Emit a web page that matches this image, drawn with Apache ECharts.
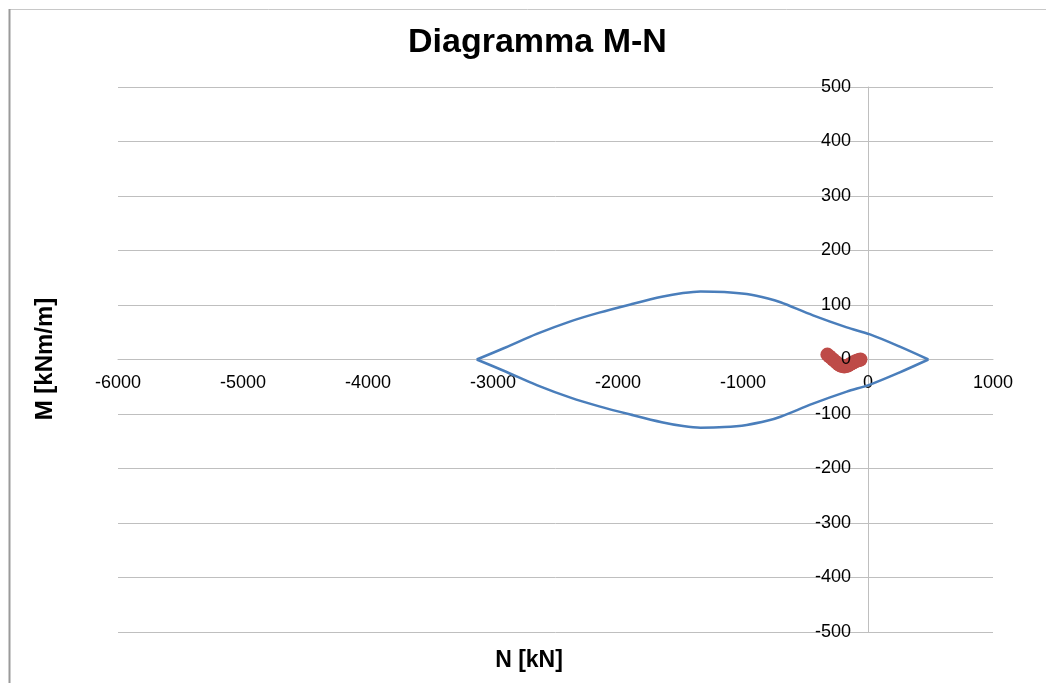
<!DOCTYPE html>
<html>
<head>
<meta charset="utf-8">
<script src="https://cdn.jsdelivr.net/npm/echarts@6/dist/echarts.min.js"></script>
<style>
html,body{margin:0;padding:0;background:#fff;}
#chart{width:1046px;height:683px;}
</style>
</head>
<body>
<div id="chart"></div>
<script>
// Upper branch of the M-N interaction domain (N [kN], M [kNm/m])
var upperN = [-3130, -2900, -2650, -2380, -2150, -1900, -1650, -1480, -1340, -1150, -970, -800, -700, -440, -170, 16, 250, 483];
var upperM = [0, 22, 47, 70, 86, 101, 115, 122, 125, 124, 120, 112, 105, 81, 59, 46, 24, 0];
// Lower branch
var lowerN = [-3130, -2900, -2650, -2380, -2150, -1900, -1650, -1480, -1340, -1150, -970, -800, -700, -440, -170, 16, 250, 483];
var lowerM = [0, -22, -47, -70, -86, -101, -115, -122, -125, -124, -120, -112, -105, -81, -59, -46, -24, 0];
// Load points (red)
var loadN = [-325, -310, -295, -280, -265, -250, -235, -220, -205, -190, -175, -160, -145, -130, -115, -100, -85, -70, -60];
var loadM = [9, 6, 3, 0, -3, -6, -9, -11, -12, -13, -12, -11, -9, -7, -5, -3, -2, -1, 0];

var xTicks = [-6000, -5000, -4000, -3000, -2000, -1000, 0, 1000];
var yTicks = [-500, -400, -300, -200, -100, 0, 100, 200, 300, 400, 500];

function pairs(a, b) { return a.map(function (v, i) { return [v, b[i]]; }); }

var FONT = '"Liberation Sans", Arial, sans-serif';
var GRID = { left: 118, top: 87, width: 875, height: 545 };
var xMin = xTicks[0], xMax = xTicks[xTicks.length - 1];
var yMin = yTicks[0], yMax = yTicks[yTicks.length - 1];
// place the axes through the origin (axis offsets derived from the scales)
var yAxisOffset = -GRID.width * (0 - xMin) / (xMax - xMin);
var xAxisOffset = -GRID.height * (0 - yMin) / (yMax - yMin);
var numFmt = function (v) { return String(v); };

var chart = echarts.init(document.getElementById('chart'));
chart.setOption({
  animation: false,
  backgroundColor: '#ffffff',
  title: {
    text: 'Diagramma M-N',
    left: 403,
    top: 21,
    textStyle: { fontFamily: FONT, fontWeight: 'bold', fontSize: 34, color: '#000' }
  },
  grid: { left: GRID.left, top: GRID.top, width: GRID.width, height: GRID.height, containLabel: false },
  xAxis: {
    type: 'value',
    min: xMin, max: xMax, interval: 1000,
    position: 'bottom',
    offset: xAxisOffset,
    axisLine: { show: true, onZero: false, lineStyle: { color: '#bfbfbf', width: 1 } },
    axisTick: { show: false },
    splitLine: { show: false },
    axisLabel: { fontFamily: FONT, fontSize: 18, color: '#000', margin: 15, formatter: numFmt }
  },
  yAxis: [
    {
      type: 'value',
      min: yMin, max: yMax, interval: 100,
      position: 'left',
      offset: yAxisOffset,
      axisLine: { show: true, onZero: false, lineStyle: { color: '#bfbfbf', width: 1 } },
      axisTick: { show: false },
      splitLine: { show: true, lineStyle: { color: '#bfbfbf', width: 1 } },
      axisLabel: { show: false }
    },
    {
      type: 'value',
      min: yMin, max: yMax, interval: 100,
      position: 'left',
      offset: yAxisOffset,
      z: 6,
      axisLine: { show: false, onZero: false },
      axisTick: { show: false },
      splitLine: { show: false },
      axisLabel: { fontFamily: FONT, fontSize: 18, color: '#000', margin: 17, formatter: numFmt }
    }
  ],
  graphic: [
    { type: 'line', shape: { x1: 9, y1: 9.5, x2: 1046, y2: 9.5 }, style: { stroke: '#c8c8c8', lineWidth: 1 } },
    { type: 'line', shape: { x1: 9.5, y1: 9, x2: 9.5, y2: 683 }, style: { stroke: '#9a9a9a', lineWidth: 2 } },
    { type: 'text', x: 529, y: 661, style: { text: 'N [kN]', font: 'bold 23px ' + FONT, fill: '#000', textAlign: 'center', textVerticalAlign: 'middle' } },
    { type: 'text', x: 45, y: 359, rotation: Math.PI / 2, style: { text: 'M [kNm/m]', font: 'bold 24px ' + FONT, fill: '#000', textAlign: 'center', textVerticalAlign: 'middle' } }
  ],
  series: [
    { type: 'line', yAxisIndex: 0, data: pairs(upperN, upperM), smooth: 0.3, showSymbol: false, lineStyle: { color: '#4a7ebb', width: 2.5 }, z: 3 },
    { type: 'line', yAxisIndex: 0, data: pairs(lowerN, lowerM), smooth: 0.3, showSymbol: false, lineStyle: { color: '#4a7ebb', width: 2.5 }, z: 3 },
    { type: 'scatter', yAxisIndex: 0, data: pairs(loadN, loadM), symbol: 'circle', symbolSize: 14, itemStyle: { color: '#be4b48', opacity: 1 }, z: 4 }
  ]
});
</script>
</body>
</html>
